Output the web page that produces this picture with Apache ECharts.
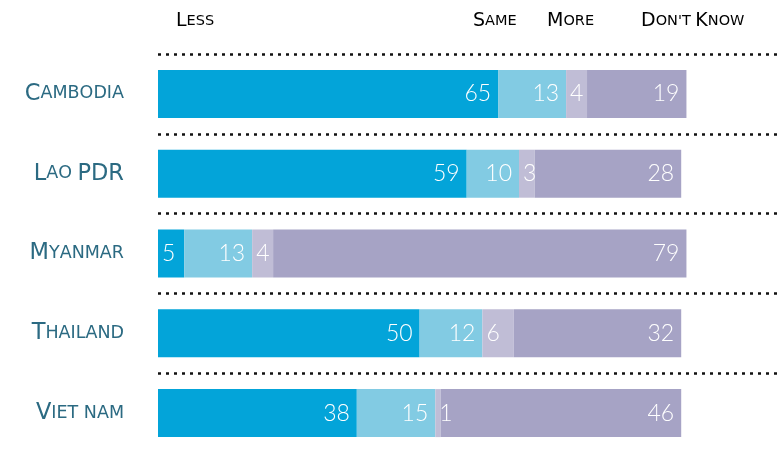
<!DOCTYPE html>
<html>
<head>
<meta charset="utf-8">
<script src="https://cdn.jsdelivr.net/npm/echarts@6/dist/echarts.min.js"></script>
<style>
  html, body { margin: 0; padding: 0; background: #fff; }
  #chart { width: 778px; height: 451px; }
</style>
</head>
<body>
<div id="chart"></div>
<script>
// survey answers, percent
var countries = ['Cambodia', 'Lao PDR', 'Myanmar', 'Thailand', 'Viet nam']
var answers = ['Less', 'Same', 'More', "Don't Know"]
var less = [65, 59, 5, 50, 38]
var same = [13, 10, 13, 12, 15]
var more = [4, 3, 4, 6, 1]
var dontKnow = [19, 28, 79, 32, 46]

var colors = ['#03a4d9', '#82cbe3', '#c0bdd6', '#a6a3c5']
var headerLeft = [176, 473, 547, 641] // header x positions

// fake small caps: capitals big, lower case letters as small capitals
function smallCaps(str) {
  var out = ''
  for (var i = 0; i < str.length; i++) {
    var c = str[i]
    if (c === ' ') { out += '{s| }'; continue }
    if (c === c.toUpperCase() && c !== c.toLowerCase()) out += '{b|' + c + '}'
    else out += '{s|' + c.toUpperCase() + '}'
  }
  return out
}

function rich(color, big, small) {
  return {
    b: { fontSize: big, color: color, fontFamily: 'DejaVu Sans' },
    s: { fontSize: small, color: color, fontFamily: 'DejaVu Sans' }
  }
}

var chart = echarts.init(document.getElementById('chart'))

var seriesData = [less, same, more, dontKnow]

chart.setOption({
  animation: false,
  // grid runs past the bottom edge so the last dotted line is hidden
  grid: { left: 158, right: 0, top: 54, height: 399, outerBoundsMode: 'none', containLabel: false },
  xAxis: {
    type: 'value',
    min: 0,
    max: 118.5,
    show: false
  },
  yAxis: {
    type: 'category',
    inverse: true,
    data: countries,
    axisLine: { show: false },
    axisTick: { show: false },
    axisLabel: {
      margin: 34,
      formatter: function (v) { return smallCaps(v) },
      rich: rich('#2b6a82', 22.5, 17.5)
    },
    splitLine: {
      show: true,
      lineStyle: { color: '#111', width: 2.6, type: [3, 5] }
    }
  },
  graphic: answers.map(function (a, i) {
    return {
      type: 'text',
      left: headerLeft[i],
      top: 12,
      style: {
        text: smallCaps(a),
        rich: rich('#444', 19, 14.5)
      }
    }
  }),
  series: seriesData.map(function (vals, i) {
    return {
      name: answers[i],
      type: 'bar',
      stack: 'total',
      barWidth: 48,
      itemStyle: { color: colors[i] },
      label: {
        show: true,
        position: 'insideRight',
        distance: 7,
        color: '#fff',
        fontSize: 23,
        fontFamily: 'Lato',
        fontWeight: 300
      },
      data: vals.map(function (v) {
        if (v < 7) {
          return { value: v, label: { position: 'insideLeft', distance: 4 } }
        }
        return v
      })
    }
  })
})
</script>
</body>
</html>
